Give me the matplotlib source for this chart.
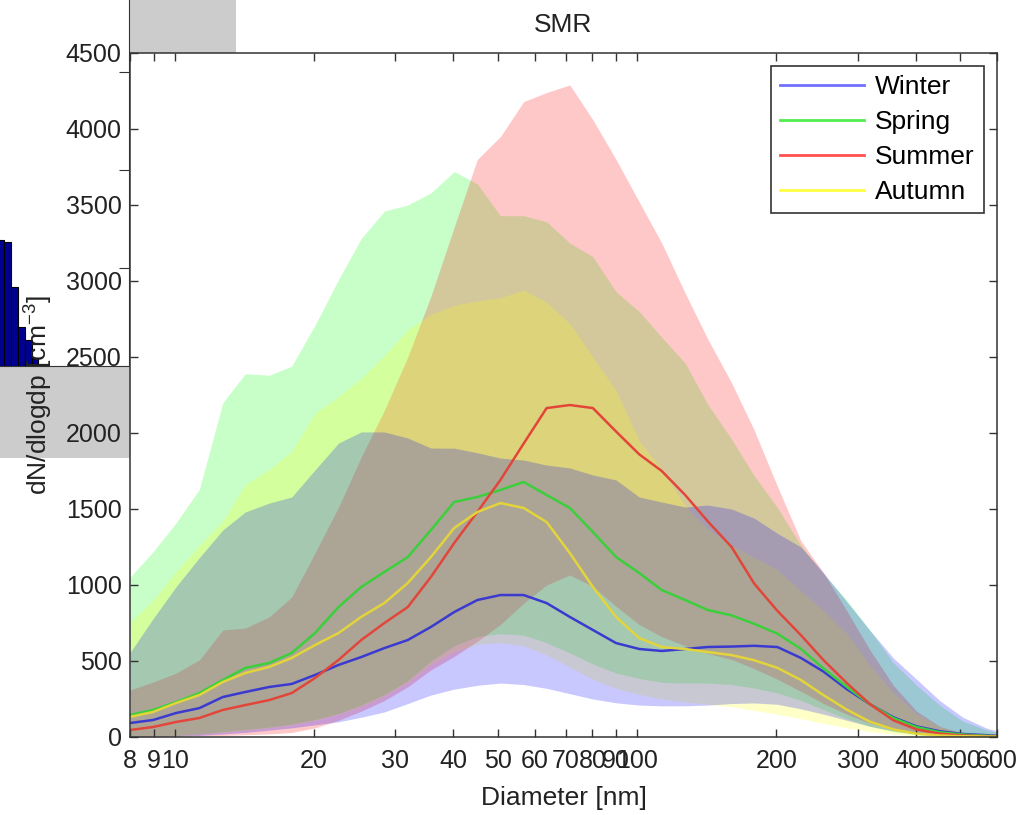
import matplotlib
matplotlib.use("Agg")
import matplotlib.pyplot as plt
from matplotlib.lines import Line2D
from matplotlib.patches import Rectangle

plt.rcParams['font.family'] = ['Liberation Sans', 'DejaVu Sans']
plt.rcParams['mathtext.fontset'] = 'custom'
plt.rcParams['mathtext.rm'] = 'Liberation Sans'
plt.rcParams['mathtext.it'] = 'Liberation Sans'

# particle diameter bins [nm]
diam = [8.0, 8.98, 10.07, 11.3, 12.7, 14.2, 16.0, 17.9, 20.1, 22.6, 25.3, 28.4, 31.9,
        35.8, 40.2, 45.1, 50.6, 56.8, 63.7, 71.5, 80.2, 90.0, 101, 113, 127, 142, 160,
        179, 201, 226, 253, 284, 319, 358, 402, 451, 506, 568, 600]

winter_mean = [92, 112, 158, 190, 263, 296, 329, 349, 408, 474, 526, 585, 638, 724, 822,
               901, 934, 934, 881, 790, 704, 618, 579, 566, 579, 592, 595, 600, 592, 520,
               430, 315, 215, 130, 70, 38, 20, 12, 8]
winter_lo = [0, 2, 5, 10, 20, 30, 45, 60, 80, 100, 130, 165, 220, 276, 315, 340, 355, 345,
             320, 285, 250, 225, 210, 205, 205, 210, 220, 224, 215, 185, 150, 110, 70, 40,
             20, 10, 5, 2, 1]
winter_hi = [555, 780, 990, 1180, 1362, 1480, 1539, 1579, 1757, 1934, 2007, 2007, 1967,
             1901, 1900, 1870, 1835, 1822, 1789, 1770, 1724, 1691, 1579, 1546, 1513, 1526,
             1500, 1440, 1340, 1250, 1080, 890, 700, 520, 380, 240, 130, 60, 40]

spring_mean = [145, 178, 230, 289, 375, 454, 487, 553, 684, 855, 987, 1086, 1184, 1362,
               1546, 1579, 1625, 1678, 1592, 1507, 1349, 1184, 1079, 967, 901, 836, 800,
               745, 680, 580, 450, 330, 215, 125, 65, 32, 16, 8, 6]
spring_lo = [0, 5, 10, 20, 35, 50, 65, 85, 115, 155, 210, 280, 370, 500, 600, 660, 680,
             670, 620, 553, 480, 420, 385, 360, 355, 355, 345, 322, 290, 240, 180, 120,
             70, 35, 15, 7, 3, 1, 0]
spring_hi = [1050, 1220, 1410, 1630, 2200, 2390, 2380, 2440, 2710, 3010, 3280, 3460, 3500,
             3580, 3720, 3640, 3430, 3430, 3390, 3250, 3160, 2930, 2800, 2630, 2460, 2190,
             1960, 1720, 1510, 1260, 1070, 900, 700, 490, 340, 210, 105, 48, 30]

summer_mean = [46, 66, 99, 125, 178, 210, 243, 289, 388, 507, 638, 750, 855, 1053, 1276,
               1480, 1691, 1930, 2164, 2184, 2164, 2010, 1860, 1750, 1592, 1420, 1250,
               1010, 830, 670, 505, 355, 215, 110, 50, 22, 10, 5, 3]
summer_lo = [0, 0, 5, 10, 10, 15, 20, 30, 60, 110, 170, 240, 330, 441, 530, 630, 740, 880,
             1000, 1066, 990, 860, 740, 660, 600, 550, 510, 450, 380, 300, 220, 150, 90,
             50, 25, 12, 6, 3, 2]
summer_hi = [309, 362, 421, 507, 704, 717, 790, 921, 1211, 1513, 1842, 2150, 2500, 2900,
             3355, 3800, 3950, 4180, 4240, 4290, 4060, 3800, 3520, 3250, 2920, 2620, 2330,
             2020, 1650, 1290, 1080, 830, 570, 340, 170, 70, 25, 10, 5]

autumn_mean = [132, 165, 224, 276, 362, 421, 461, 520, 605, 684, 790, 882, 1013, 1184,
               1375, 1480, 1539, 1507, 1414, 1210, 987, 790, 651, 592, 579, 559, 539, 505,
               455, 375, 275, 180, 100, 50, 22, 10, 5, 3, 2]
autumn_lo = [0, 5, 10, 20, 30, 45, 60, 80, 110, 150, 200, 270, 360, 480, 560, 610, 620,
             600, 540, 460, 380, 320, 280, 250, 230, 215, 200, 175, 150, 120, 90, 60, 35,
             18, 8, 4, 2, 1, 0]
autumn_hi = [750, 900, 1090, 1260, 1420, 1660, 1760, 1880, 2130, 2240, 2360, 2510, 2680,
             2780, 2840, 2870, 2890, 2940, 2860, 2720, 2500, 2280, 1950, 1760, 1520, 1370,
             1260, 1180, 1100, 960, 830, 680, 470, 290, 150, 66, 30, 12, 8]

seasons = ["Winter", "Spring", "Summer", "Autumn"]
xticks = [8, 9, 10, 20, 30, 40, 50, 60, 70, 80, 90, 100, 200, 300, 400, 500, 600]
yticks = [0, 500, 1000, 1500, 2000, 2500, 3000, 3500, 4000, 4500]

# fragment of another panel peeking out on the left
frag_x = [0.5, 7.8, 14.5, 21.2, 28.3, 35.0]
frag_h = [126, 124, 79, 39, 26, 8]

W, H = 1019, 815
fig = plt.figure(figsize=(W / 100, H / 100), dpi=100)

# grey boxes left over from the other panels
fig.add_artist(Rectangle((130 / W, 1 - 53 / H), 106 / W, 53 / H, transform=fig.transFigure,
                         facecolor='#cccccc', edgecolor='none', zorder=0))
fig.add_artist(Rectangle((0, 1 - 458 / H), 130 / W, 92 / H, transform=fig.transFigure,
                         facecolor='#cccccc', edgecolor='none', zorder=0))

axb = fig.add_axes([0, 1 - 366 / H, 129 / W, 366 / H])
axb.patch.set_visible(False)
axb.bar(frag_x, frag_h, width=6.7, color='#000090', edgecolor='black', linewidth=0.8)
axb.set_xlim(0, 129)
axb.set_ylim(0, 366)
axb.spines['left'].set_visible(False)
axb.spines['top'].set_visible(False)
axb.spines['right'].set_color('#333333')
axb.spines['bottom'].set_color('#333333')
axb.set_xticks([])
axb.set_yticks([98, 196, 294])
axb.tick_params(axis='y', left=False, right=True, direction='in', length=7,
                labelleft=False, color='#333333')

ax = fig.add_axes([130 / W, 1 - 737 / H, 867 / W, 684 / H])

fills = [(spring_lo, spring_hi, (0, 1, 0)),
         (summer_lo, summer_hi, (1, 0, 0)),
         (autumn_lo, autumn_hi, (1, 1, 0)),
         (winter_lo, winter_hi, (0, 0, 1))]
for lo, hi, c in fills:
    ax.fill_between(diam, lo, hi, color=c, alpha=0.216, linewidth=0)

means = [winter_mean, spring_mean, summer_mean, autumn_mean]
line_colors = ['#3a3ad0', '#3ccf3c', '#e2463a', '#e2d43a']
for m, c in zip(means, line_colors):
    ax.plot(diam, m, color=c, linewidth=1.8)

ax.set_xscale('log')
ax.set_xlim(8, 600)
ax.set_ylim(0, 4500)
ax.set_xticks(xticks)
ax.set_xticklabels([str(t) for t in xticks])
ax.minorticks_off()
ax.set_yticks(yticks)
ax.tick_params(direction='in', top=True, right=True, length=6, width=1,
               labelsize=18, color='#333333', labelcolor='#222222')
ax.tick_params(axis='x', pad=9)
ax.tick_params(axis='y', pad=6)
for s in ax.spines.values():
    s.set_color('#333333')
    s.set_linewidth(1.1)

ax.set_xlabel('Diameter [nm]', fontsize=19, color='#222222', labelpad=9)
ax.set_ylabel(r'dN/dlogdp [cm$^{-3}$]', fontsize=19, color='#222222', labelpad=8)
ax.set_title('SMR', fontsize=19, color='#222222', pad=15)

leg_colors = ['#7070ff', '#50ee50', '#ff5050', '#ffff40']
handles = [Line2D([], [], color=c, linewidth=2) for c in leg_colors]
leg = ax.legend(handles, seasons, loc='upper right', fontsize=19, frameon=True,
                fancybox=False, framealpha=1, edgecolor='#333333',
                handlelength=3.2, handletextpad=0.4, labelspacing=0.41,
                borderaxespad=0.5, borderpad=0.35)
leg.get_frame().set_linewidth(1.2)

fig.savefig('out.png', dpi=100)
